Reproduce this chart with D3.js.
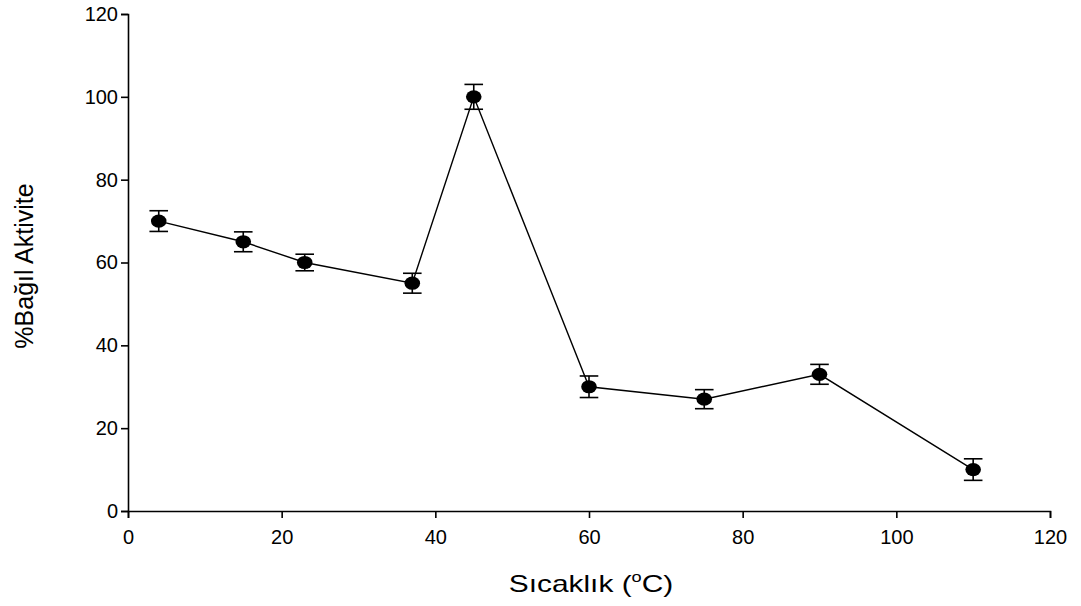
<!DOCTYPE html>
<html>
<head>
<meta charset="utf-8">
<script src="https://cdn.jsdelivr.net/npm/d3@7"></script>
<style>
  body { margin: 0; background: #fff; }
  text { font-family: "Liberation Sans", Arial, sans-serif; fill: #000; }
</style>
</head>
<body>
<svg id="chart" width="1081" height="606"></svg>
<script>
// Temperature (°C) vs relative activity (%) with error bars
const temperatures = [4, 15, 23, 37, 45, 60, 75, 90, 110];
const activity     = [70, 65, 60, 55, 100, 30, 27, 33, 10];
const errors       = [2.5, 2.4, 2.0, 2.4, 3.0, 2.6, 2.3, 2.4, 2.6];
const xTicks = [0, 20, 40, 60, 80, 100, 120];
const yTicks = [0, 20, 40, 60, 80, 100, 120];

const svg = d3.select("#chart");
const x = d3.scaleLinear().domain([0, 120]).range([128, 1050]);
const y = d3.scaleLinear().domain([0, 120]).range([511, 14]);

// Axes
const xAxis = svg.append("g").attr("transform", `translate(0,${y(0)})`)
  .call(d3.axisBottom(x).tickValues(xTicks).tickSize(7).tickPadding(12).tickFormat(d3.format("d")));
const yAxis = svg.append("g").attr("transform", `translate(${x(0)},0)`)
  .call(d3.axisLeft(y).tickValues(yTicks).tickSize(7).tickPadding(3).tickFormat(d3.format("d")));

[xAxis, yAxis].forEach(g => {
  g.select(".domain").attr("stroke", "#000").attr("stroke-width", 1.6);
  g.selectAll(".tick line").attr("stroke", "#000").attr("stroke-width", 1.6);
  g.selectAll(".tick text").attr("font-size", 20).attr("font-family", "'Liberation Sans', Arial, sans-serif");
});

const pts = temperatures.map((t, i) => ({ t, v: activity[i], e: errors[i] }));

// Connecting line
svg.append("path")
  .datum(pts)
  .attr("fill", "none")
  .attr("stroke", "#000")
  .attr("stroke-width", 1.4)
  .attr("d", d3.line().x(d => x(d.t)).y(d => y(d.v)));

// Error bars
const eb = svg.append("g").attr("stroke", "#000").attr("stroke-width", 1.6);
pts.forEach(d => {
  const cx = x(d.t), top = y(d.v + d.e), bot = y(d.v - d.e);
  eb.append("line").attr("x1", cx).attr("x2", cx).attr("y1", top).attr("y2", bot);
  eb.append("line").attr("x1", cx - 9.3).attr("x2", cx + 9.3).attr("y1", top).attr("y2", top);
  eb.append("line").attr("x1", cx - 9.3).attr("x2", cx + 9.3).attr("y1", bot).attr("y2", bot);
});

// Markers
svg.append("g").selectAll("ellipse").data(pts).join("ellipse")
  .attr("cx", d => x(d.t)).attr("cy", d => y(d.v))
  .attr("rx", 7.8).attr("ry", 6.6).attr("fill", "#000");

// Axis titles
const xt = svg.append("text")
  .attr("transform", "translate(591,592) scale(1.3,1)")
  .attr("text-anchor", "middle")
  .attr("font-size", 23);
xt.append("tspan").text("Sıcaklık (");
xt.append("tspan").attr("dy", -10).attr("font-size", 14).text("o");
xt.append("tspan").attr("dy", 10).text("C)");

svg.append("text")
  .attr("transform", "translate(33,266) rotate(-90)")
  .attr("text-anchor", "middle")
  .attr("font-size", 25)
  .text("%Bağıl Aktivite");
</script>
</body>
</html>
